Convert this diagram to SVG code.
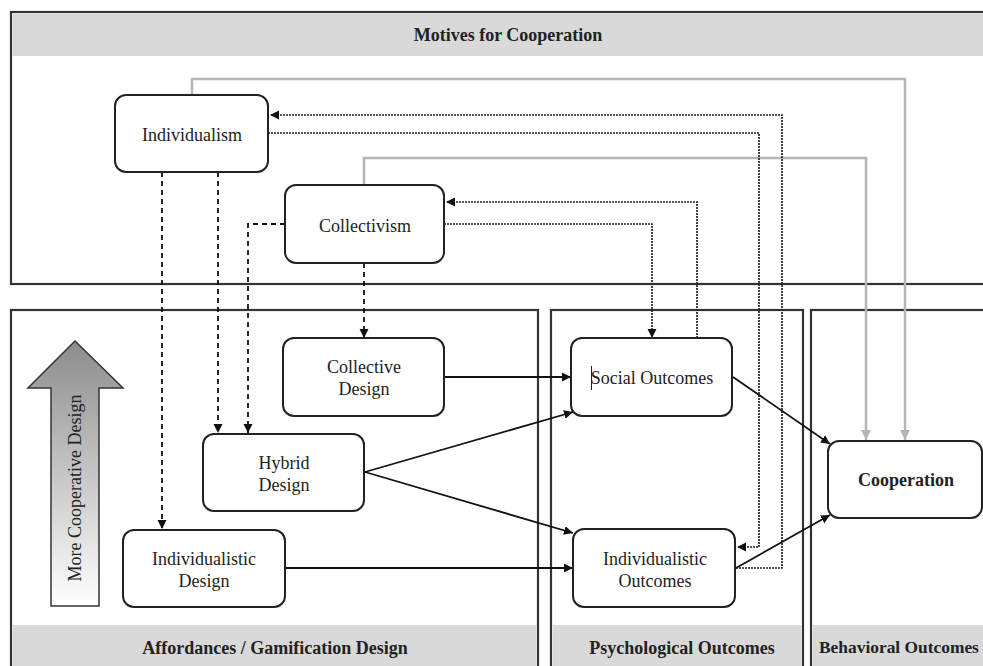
<svg xmlns="http://www.w3.org/2000/svg" width="983" height="666" viewBox="0 0 983 666">
<defs>
<marker id="ah" markerUnits="userSpaceOnUse" markerWidth="10" markerHeight="10" refX="9" refY="5" orient="auto"><path d="M0,0.5 L9,5 L0,9.5 z" fill="#111"/></marker>
<marker id="ahg" markerUnits="userSpaceOnUse" markerWidth="12" markerHeight="12" refX="10" refY="6" orient="auto"><path d="M0,1 L10,6 L0,11 z" fill="#b5b5b5"/></marker>
<linearGradient id="arrowgrad" x1="0" y1="0" x2="0" y2="1">
<stop offset="0" stop-color="#8c8c8c"/>
<stop offset="1" stop-color="#ffffff"/>
</linearGradient>
<style>
.panel{fill:#fff;stroke:#333;stroke-width:2.2}
.band{fill:#d9d9d9}
.node{fill:#fff;stroke:#222;stroke-width:2}
.t{font-family:"Liberation Serif","Times New Roman",serif;font-size:18px;fill:#222;text-anchor:middle}
.b{font-weight:bold}
.solid{fill:none;stroke:#111;stroke-width:1.8}
.dash{fill:none;stroke:#111;stroke-width:1.8;stroke-dasharray:5 4}
.dot{fill:none;stroke:#222;stroke-width:1.7;stroke-dasharray:2 1}
.gray{fill:none;stroke:#b5b5b5;stroke-width:2.5}
</style>
</defs>
<rect width="983" height="666" fill="#fff"/>
<g id="panel-motives">
<rect class="panel" x="11" y="12" width="985" height="272"/>
<rect class="band" x="12.5" y="13.5" width="972" height="42.5"/>
<text class="t b" x="508" y="41">Motives for Cooperation</text>
</g>
<g id="panel-design">
<rect class="panel" x="11" y="310" width="527" height="370"/>
<rect class="band" x="12.5" y="625" width="524" height="45"/>
<text class="t b" x="275" y="654">Affordances / Gamification Design</text>
</g>
<g id="panel-psych">
<rect class="panel" x="551" y="310" width="252" height="370"/>
<rect class="band" x="552.5" y="625" width="249" height="45"/>
<text class="t b" x="682" y="654">Psychological Outcomes</text>
</g>
<g id="panel-behav">
<rect class="panel" x="811" y="310" width="190" height="370"/>
<rect class="band" x="812.5" y="625" width="180" height="45"/>
<text class="t b" x="819" y="653" style="text-anchor:start;font-size:17.4px">Behavioral Outcomes</text>
</g>
<g id="more-cooperative-arrow">
<path d="M75,341 L123,388 L99,388 L99,606 L51,606 L51,388 L28,388 Z" fill="url(#arrowgrad)" stroke="#333" stroke-width="1.5"/>
<text class="t" transform="translate(81,488) rotate(-90)">More Cooperative Design</text>
</g>
<g id="connectors">
<path class="gray" d="M192,95 V79 H905 V440" marker-end="url(#ahg)"/>
<path class="gray" d="M364,185 V158 H866 V440" marker-end="url(#ahg)"/>
<path class="dot" d="M736,568 H782 V115 H270" marker-end="url(#ah)"/>
<path class="dot" d="M268,133 H759 V547 H737" marker-end="url(#ah)"/>
<path class="dot" d="M697,338 V202 H446" marker-end="url(#ah)"/>
<path class="dot" d="M444,224 H652 V338" marker-end="url(#ah)"/>
<path class="dash" d="M162,172 V529" marker-end="url(#ah)"/>
<path class="dash" d="M218,172 V433" marker-end="url(#ah)"/>
<path class="dash" d="M285,224 H248 V433" marker-end="url(#ah)"/>
<path class="dash" d="M364,263 V338" marker-end="url(#ah)"/>
<path class="solid" d="M444,377 H571" marker-end="url(#ah)"/>
<path class="solid" d="M365,472 L573,412" marker-end="url(#ah)"/>
<path class="solid" d="M365,472 L573,533" marker-end="url(#ah)"/>
<path class="solid" d="M285,568 H573" marker-end="url(#ah)"/>
<path class="solid" d="M733,377 L830,444" marker-end="url(#ah)"/>
<path class="solid" d="M736,568 L830,515" marker-end="url(#ah)"/>
</g>
<g id="individualism">
<rect class="node" x="115" y="95" width="153" height="77" rx="11"/>
<text class="t" x="192" y="141">Individualism</text>
</g>
<g id="collectivism">
<rect class="node" x="285" y="185" width="159" height="78" rx="11"/>
<text class="t" x="365" y="232">Collectivism</text>
</g>
<g id="collective-design">
<rect class="node" x="283" y="338" width="161" height="78" rx="11"/>
<text class="t" x="364" y="373">Collective</text>
<text class="t" x="364" y="395">Design</text>
</g>
<g id="hybrid-design">
<rect class="node" x="203" y="434" width="161" height="77" rx="11"/>
<text class="t" x="284" y="469">Hybrid</text>
<text class="t" x="284" y="491">Design</text>
</g>
<g id="individualistic-design">
<rect class="node" x="123" y="530" width="162" height="77" rx="11"/>
<text class="t" x="204" y="565">Individualistic</text>
<text class="t" x="204" y="587">Design</text>
</g>
<g id="social-outcomes">
<rect class="node" x="571" y="338" width="161" height="78" rx="11"/>
<line x1="591.5" y1="366" x2="591.5" y2="390" stroke="#222" stroke-width="1"/>
<text class="t" x="652" y="384">Social Outcomes</text>
</g>
<g id="individualistic-outcomes">
<rect class="node" x="573" y="529" width="162" height="78" rx="11"/>
<text class="t" x="655" y="565">Individualistic</text>
<text class="t" x="655" y="587">Outcomes</text>
</g>
<g id="cooperation">
<rect class="node" x="828" y="441" width="154" height="77" rx="11"/>
<text class="t b" x="906" y="486">Cooperation</text>
</g>
</svg>
